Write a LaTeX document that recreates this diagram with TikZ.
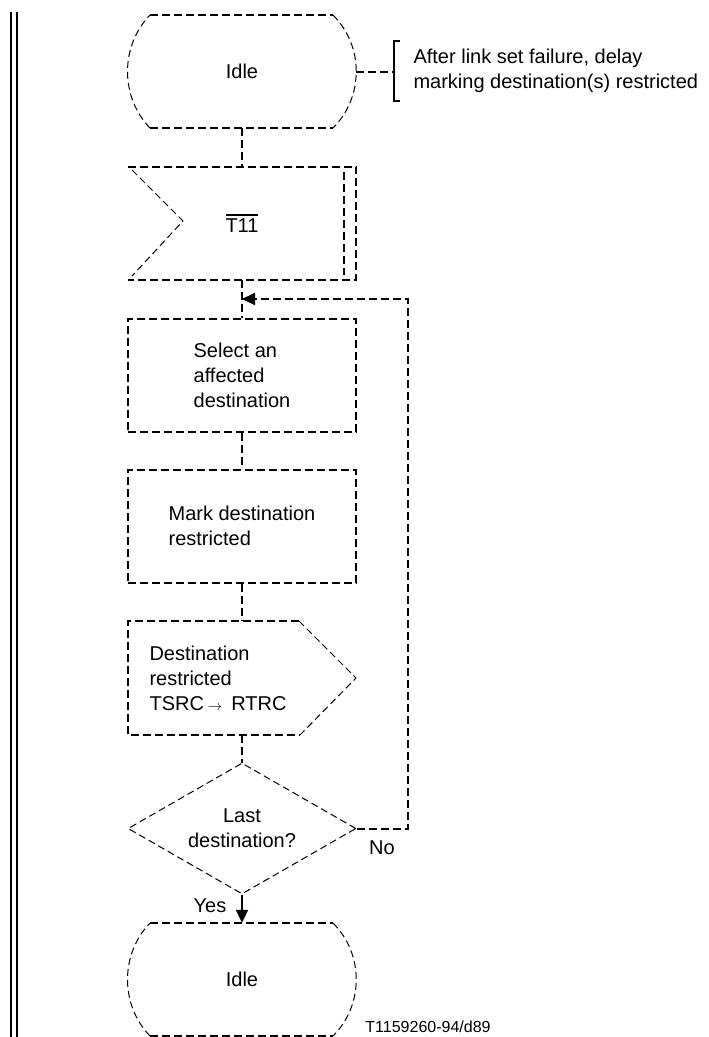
\documentclass[tikz,border=0pt]{standalone}
\usepackage{fontspec}
\setmainfont{Liberation Sans}
\usetikzlibrary{shapes.geometric,arrows.meta}

% outline of a state symbol, drawn round (0,0)
\newcommand{\idleoutline}{%
  \draw[sdl] (-92,-56.5) -- (91,-56.5) (-92,56.5) -- (91,56.5);
  \draw[fine] (91,-56.5) .. controls (122,-25.5) and (122,25.5) .. (91,56.5)
     (-92,56.5) .. controls (-122,25.5) and (-122,-25.5) .. (-92,-56.5);}
% text with a bar over it
\newcommand{\barred}[1]{\leavevmode\vbox{\hrule height 1.5pt\kern 3pt\hbox{#1}}}

\begin{document}
\begin{tikzpicture}[x=1pt,y=-1pt,font=\fontsize{20}{25}\selectfont,
   sdl/.style={dash pattern=on 8pt off 4pt,line width=2pt},
   fine/.style={dash pattern=on 7pt off 4pt,line width=1pt},
   slot/.style={minimum width=228pt,minimum height=113pt,inner sep=0pt},
   task/.style={slot,draw,sdl,align=left},
   headarrow/.style={-{Triangle[length=13pt,width=12pt]}}]
  \useasboundingbox (0,0) rectangle (709,1037);
  \draw[line width=2pt] (11,12) -- (11,1037) (17,12) -- (17,1037);

  \node[slot] (idleA) at (242,71.5) {Idle};
  \node[slot] (t11) at (242,223.5) {\barred{T11}};
  \node[task] (select) at (242,375) {Select an\\affected\\destination};
  \node[task] (mark) at (242,526) {Mark destination\\restricted};
  \node[slot] (dest) at (242,678) {};
  \node[anchor=west,align=left] (destTxt) at (146,678)
       {Destination\\restricted\\TSRC\hspace{4pt}{\fontsize{15}{15}\selectfont$\rightarrow$}\hspace{9pt}RTRC};
  \node[diamond,draw,fine,aspect=1.74,minimum width=228pt,minimum height=131pt,
        inner sep=0pt,align=center] (last) at (242,828.5) {Last\\destination?};
  \node[slot] (idleB) at (242,979.5) {Idle};

  \begin{scope}[shift={(idleA.center)}]\idleoutline\end{scope}
  \begin{scope}[shift={(idleB.center)}]\idleoutline\end{scope}
  % input T11
  \draw[sdl] (t11.north west) -- (t11.north east) -- (t11.south east) -- (t11.south west);
  \draw[sdl] (344,172) -- (344,275);
  \draw[fine] (132,170) -- (183,221) -- (132,276);
  % output
  \draw[sdl] (299,621) -- (128,621) -- (128,735) -- (300,735);
  \draw[fine] (299,621) -- (356,678) -- (300,735);

  % comment
  \coordinate (brk) at (394,71.5);
  \draw[sdl] (idleA.east) -- (brk);
  \draw[line width=2pt] (400,41) -| (394,101) -- (400,101);
  \node[anchor=west,align=left] (note) at (410,70.5)
       {After link set failure, delay\\marking destination(s) restricted};

  \coordinate (jn) at (242,299);
  \draw[sdl] (idleA) -- (t11);
  \draw[sdl] (t11) -- (select);
  \draw[sdl] (select) -- (mark);
  \draw[sdl] (mark) -- (dest);
  \draw[sdl] (dest) -- (last);
  \draw[sdl,headarrow] (last.east) -- (408,828.5) |- (jn);
  \draw[line width=2pt,headarrow] (last.south) -- (idleB.north);

  \node (no) at (382,848) {No};
  \node (yes) at (210,906) {Yes};
  \node[inner sep=0pt,font=\fontsize{16}{16}\selectfont] (code) at (428,1027) {T1159260-94/d89};
\end{tikzpicture}
\end{document}
